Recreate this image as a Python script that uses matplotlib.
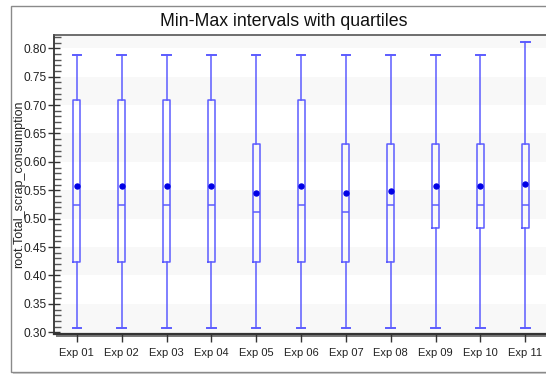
import matplotlib
matplotlib.use("Agg")
import matplotlib.pyplot as plt
from matplotlib.patches import Rectangle
from matplotlib.ticker import MultipleLocator, FormatStrFormatter

plt.rcParams['font.family'] = ['Liberation Sans', 'DejaVu Sans']

# Per-experiment summary statistics
experiments = ["Exp 01", "Exp 02", "Exp 03", "Exp 04", "Exp 05", "Exp 06",
               "Exp 07", "Exp 08", "Exp 09", "Exp 10", "Exp 11"]
minimums = [0.308, 0.308, 0.308, 0.308, 0.308, 0.308, 0.308, 0.308, 0.308, 0.308, 0.308]
q1_values = [0.424, 0.424, 0.424, 0.424, 0.424, 0.424, 0.424, 0.424, 0.484, 0.484, 0.484]
medians = [0.524, 0.524, 0.524, 0.524, 0.512, 0.524, 0.512, 0.524, 0.524, 0.524, 0.524]
q3_values = [0.709, 0.709, 0.709, 0.709, 0.632, 0.709, 0.632, 0.632, 0.632, 0.632, 0.632]
maximums = [0.788, 0.788, 0.788, 0.788, 0.788, 0.788, 0.788, 0.788, 0.788, 0.788, 0.811]
means = [0.558, 0.558, 0.558, 0.558, 0.546, 0.558, 0.546, 0.548, 0.558, 0.558, 0.561]

W, H = 546, 374
fig = plt.figure(figsize=(W / 100, H / 100), dpi=100)
fig.patch.set_facecolor("white")


def fx(px):
    return px / W


def fy(py):
    return 1 - py / H


# outer chart frame with a soft shadow
fig.patches.append(Rectangle((fx(13), fy(374)), fx(560), fy(8) - fy(374),
                             transform=fig.transFigure, facecolor="#d0d0d0",
                             edgecolor="none", zorder=0))
fig.patches.append(Rectangle((fx(11), fy(372)), fx(560), fy(6) - fy(372),
                             transform=fig.transFigure, facecolor="white",
                             edgecolor="#8a8a8a", linewidth=1.0, zorder=0.5))

fig.text(fx(284), fy(21), "Min-Max intervals with quartiles", ha="center",
         va="center", fontsize=12.8, color="#111111")

ax_left, ax_right, ax_top, ax_bottom = 54.4, 547.7, 35, 334
ax = fig.add_axes([fx(ax_left), fy(ax_bottom), fx(ax_right - ax_left),
                   fy(ax_top) - fy(ax_bottom)])
ax.set_zorder(3)

# shadow behind the plotting area
fig.patches.append(Rectangle((fx(ax_left + 2), fy(ax_bottom + 3)),
                             fx(ax_right - ax_left), fy(ax_top) - fy(ax_bottom),
                             transform=fig.transFigure, facecolor="#7a7a7a",
                             edgecolor="none", zorder=0.8))

ymin, ymax = 0.297, 0.8234
ax.set_xlim(0.5, 11.5)
ax.set_ylim(ymin, ymax)
ax.set_facecolor("white")

# alternating horizontal bands every 0.05
band = 0.30
k = 0
while band < ymax:
    if k % 2 == 0:
        ax.axhspan(band, band + 0.05, facecolor="#f8f8f8", edgecolor="none", zorder=0)
    band += 0.05
    k += 1
ax.axhspan(ymin, 0.30, facecolor="#f8f8f8", edgecolor="none", zorder=0)

positions = list(range(1, len(experiments) + 1))
stats = []
for i in range(len(experiments)):
    stats.append(dict(med=medians[i], q1=q1_values[i], q3=q3_values[i],
                      whislo=minimums[i], whishi=maximums[i], mean=means[i],
                      fliers=[], label=experiments[i]))

blue = "#5c5cff"
ax.bxp(stats, positions=positions, widths=0.156, capwidths=0.19,
       showmeans=True, showfliers=False, patch_artist=False,
       boxprops=dict(color=blue, linewidth=1.1),
       whiskerprops=dict(color=blue, linewidth=1.1),
       capprops=dict(color=blue, linewidth=1.4),
       medianprops=dict(color=blue, linewidth=1.1),
       meanprops=dict(marker="o", markerfacecolor="#0000e6",
                      markeredgecolor="#0000e6", markersize=3.6))

ax.set_xticks(positions)
ax.set_xticklabels(experiments, fontsize=8.0, color="#222222")
ax.yaxis.set_major_locator(MultipleLocator(0.05))
ax.yaxis.set_minor_locator(MultipleLocator(0.01))
ax.yaxis.set_major_formatter(FormatStrFormatter("%.2f"))
ax.tick_params(axis="y", which="major", direction="inout", length=9, width=1,
               color="#333333", labelsize=8.6, labelcolor="#222222", pad=1)
ax.tick_params(axis="y", which="minor", direction="in", length=5, width=1,
               color="#555555")
ax.tick_params(axis="x", which="major", direction="out", length=6, width=1,
               color="#333333", pad=4)
ax.tick_params(axis="x", which="minor", bottom=False)

ax.spines["right"].set_visible(False)
ax.spines["top"].set_color("#555555")
ax.spines["top"].set_linewidth(1.2)
ax.spines["left"].set_color("#333333")
ax.spines["left"].set_linewidth(1.3)
ax.spines["bottom"].set_color("#333333")
ax.spines["bottom"].set_linewidth(1.6)

ax.set_ylabel("root.Total_scrap_consumption", fontsize=9.0, color="#222222")
ax.yaxis.set_label_coords((25 - ax_left) / (ax_right - ax_left), 0.5)

fig.savefig("out.png", dpi=100)
